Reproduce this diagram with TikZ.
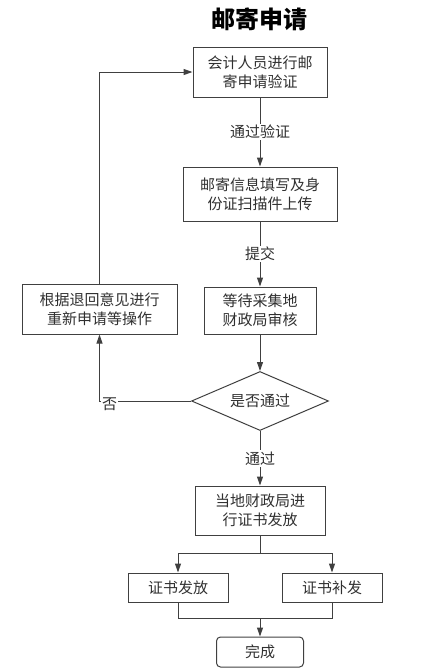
\documentclass[tikz,border=0pt]{standalone}
\usepackage{fontspec}
\setmainfont{Noto Sans CJK SC}
\usetikzlibrary{shapes.geometric,arrows.meta}
\definecolor{ln}{HTML}{404040}
\definecolor{tx}{HTML}{303030}
\begin{document}
\begin{tikzpicture}[x=1pt,y=-1pt,
  box/.style={draw=ln,line width=1pt,text=tx,font=\fontsize{15}{19}\selectfont,align=center,inner sep=0pt},
  conn/.style={draw=ln,line width=1pt,-{Triangle[length=9pt,width=6pt]}},
  plain/.style={draw=ln,line width=1pt},
  lbl/.style={fill=white,text=tx,font=\fontsize{15}{17}\selectfont,inner sep=1.5pt}]
\useasboundingbox (0,0) rectangle (429,670);
\node[font=\fontsize{24}{26}\selectfont\bfseries,text=black] (title) at (259,19) {邮寄申请};
\node[box,minimum width=134pt,minimum height=50pt] (b1) at (260,72) {会计人员进行邮\\寄申请验证};
\node[box,minimum width=154pt,minimum height=54pt] (b2) at (260,194) {邮寄信息填写及身\\份证扫描件上传};
\node[box,minimum width=112pt,minimum height=47pt] (b3) at (260,310.5) {等待采集地\\财政局审核};
\node[box,diamond,aspect=2.3,minimum width=137pt,minimum height=59pt,inner sep=0pt] (d) at (260,401) {是否通过};
\node[box,minimum width=155pt,minimum height=50pt] (bl) at (99.5,309) {根据退回意见进行\\重新申请等操作};
\node[box,minimum width=130pt,minimum height=49pt] (b4) at (260,510.5) {当地财政局进\\行证书发放};
\node[box,minimum width=100pt,minimum height=29pt] (b5) at (178,587.5) {证书发放};
\node[box,minimum width=100pt,minimum height=29pt] (b6) at (332,587.5) {证书补发};
\node[box,rounded corners=4pt,minimum width=87pt,minimum height=30pt] (b7) at (260,652) {完成};
\coordinate (split) at (260,553);
\coordinate (join) at (260,618);
\coordinate (nocorner) at (99.5,401);
\coordinate (topcorner) at (99.5,72);
% connectors
\draw[conn] (b1.south) -- node[lbl,pos=0.5] {通过验证} (b2.north);
\draw[conn] (b2.south) -- node[lbl,pos=0.5] {提交} (b3.north);
\draw[conn] (b3.south) -- (d.north);
\draw[conn] (d.west) -- (nocorner) -- (bl.south);
\node[lbl,anchor=west,inner sep=1pt] (no) at (101,404) {否};
\draw[conn] (bl.north) -- (topcorner) -- (b1.west);
\draw[conn] (d.south) -- node[lbl,pos=0.5] {通过} (b4.north);
\draw[plain] (b4.south) -- (split);
\draw[conn] (split) -| (b5.north);
\draw[conn] (split) -| (b6.north);
\draw[plain] (b5.south) |- (join);
\draw[plain] (b6.south) |- (join);
\draw[conn] (join) -- (b7.north);
\end{tikzpicture}
\end{document}
